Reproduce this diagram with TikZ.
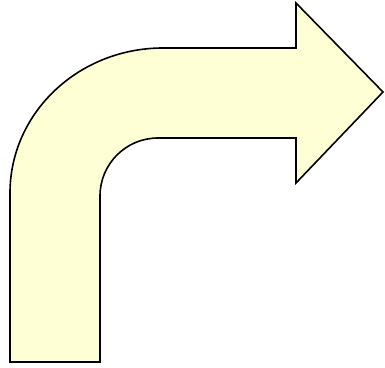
\documentclass[tikz,border=0pt]{standalone}
\definecolor{arrowfill}{HTML}{FFFFD6}
\begin{document}
\begin{tikzpicture}[x=1pt,y=1pt,
  bentarrow/.style={draw=black, fill=arrowfill, line width=1.6pt, line join=miter}]
\useasboundingbox (0,0) rectangle (385,367);
\draw[bentarrow] (10,5) -- (10,174)
  arc[start angle=180, end angle=90, x radius=153, y radius=145]
  -- (296,319) -- (296,364) -- (383,275) -- (296,184) -- (296,229) -- (158,229)
  arc[start angle=90, end angle=180, radius=58]
  -- (100,5) -- cycle;
\end{tikzpicture}
\end{document}
